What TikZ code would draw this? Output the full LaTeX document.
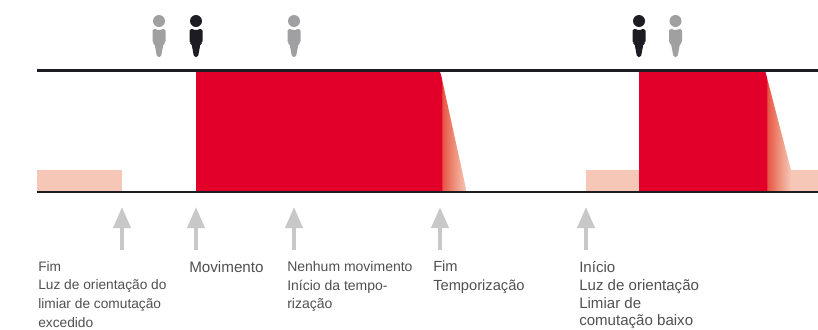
\documentclass[tikz,border=0pt]{standalone}
\usepackage{fontspec}
\setmainfont{Liberation Sans}
\usetikzlibrary{arrows.meta}
\definecolor{brandred}{HTML}{E2002A}
\definecolor{paleband}{HTML}{F6C7B7}
\definecolor{fadeA}{HTML}{E85444}
\definecolor{fadeB}{HTML}{ED8F78}
\definecolor{darkline}{HTML}{1C1C22}
\definecolor{persongrey}{HTML}{A0A0A2}
\definecolor{arrowgrey}{HTML}{C8C8C9}
\definecolor{labeltext}{HTML}{505050}
\pgfdeclarehorizontalshading{redfade}{100bp}{
  color(0bp)=(brandred);
  color(25bp)=(brandred);
  color(28bp)=(fadeA);
  color(50bp)=(fadeB);
  color(75bp)=(paleband);
  color(100bp)=(paleband)}
\tikzset{
  timeline/.style={draw=darkline,line width=1.9pt},
  upmark/.style={draw=arrowgrey,line width=3pt,-{Triangle[width=12.75pt,length=15.75pt,fill=arrowgrey]}},
  caption/.style={anchor=north west,inner sep=0pt,align=left,text=labeltext},
  capsize/.style={font=\fontsize{#1}{14}\selectfont},
  pics/person/.style={code={
    \fill[#1] (0,21) circle (6);
    \fill[#1,rounded corners=1.2] (-6.5,29) -- (-2,29) -- (0,31) -- (2,29) -- (6.5,29) -- (6.5,43) -- (4.5,43.5) -- (2,57) -- (-2,57) -- (-4.5,43.5) -- (-6.5,43) -- cycle;
  }}
}
\begin{document}
\begin{tikzpicture}[x=0.75pt,y=-0.75pt]
\useasboundingbox (0,0) rectangle (818,329);
% pale bands
\fill[paleband] (37,170) rectangle (122,191);
\fill[paleband] (586,170) rectangle (640,191);
\fill[paleband] (790.5,170) rectangle (818,191);
% red areas with fade
\begin{scope}
  \clip (439.5,70) -- (440,70) -- (466.5,191) -- (439.5,191) -- cycle;
  \shade[shading=redfade] (441,69) rectangle (466.5,192);
  \fill[brandred] (439.5,70) rectangle (441,191);
\end{scope}
\begin{scope}
  \clip (764.5,70) -- (765,70) -- (791,170) -- (791,191) -- (764.5,191) -- cycle;
  \shade[shading=redfade] (766,69) rectangle (791,192);
  \fill[brandred] (764.5,70) rectangle (766,191);
\end{scope}
\fill[brandred] (196,70) -- (440,70) -- (440.5,191) -- (196,191) -- cycle;
\fill[brandred] (639,70) -- (765,70) -- (765.5,191) -- (639,191) -- cycle;
% base lines
\coordinate (tl) at (37,70.5);
\coordinate (tr) at (818,70.5);
\coordinate (bl) at (37,192);
\coordinate (br) at (818,192);
\draw[timeline] (tl) -- (tr);
\draw[timeline] (bl) -- (br);
% persons
\pic at (159,0) {person=persongrey};
\pic at (196,0) {person=darkline};
\pic at (294,0) {person=persongrey};
\pic at (639,0) {person=darkline};
\pic at (675.5,0) {person=persongrey};
% arrows
\foreach \n/\x in {a/122,b/196,c/294,d/440,e/586}{
  \coordinate (\n0) at (\x,250);
  \coordinate (\n1) at (\x,207);
  \draw[upmark] (\n0) -- (\n1);
}
% labels
\node[caption,capsize=10.3] (l1) at (38,261) {Fim\\Luz de orientação do\\limiar de comutação\\excedido};
\node[caption,capsize=11.4] (l2) at (189,261) {Movimento};
\node[caption,capsize=10.5] (l3) at (287,261) {Nenhum movimento\\Início da tempo-\\rização};
\node[caption,capsize=11] (l4) at (433,261) {Fim\\Temporização};
\node[caption,font=\fontsize{11.3}{13.4}\selectfont] (l5) at (579,261) {Início\\Luz de orientação\\Limiar de\\comutação baixo};
\end{tikzpicture}
\end{document}
